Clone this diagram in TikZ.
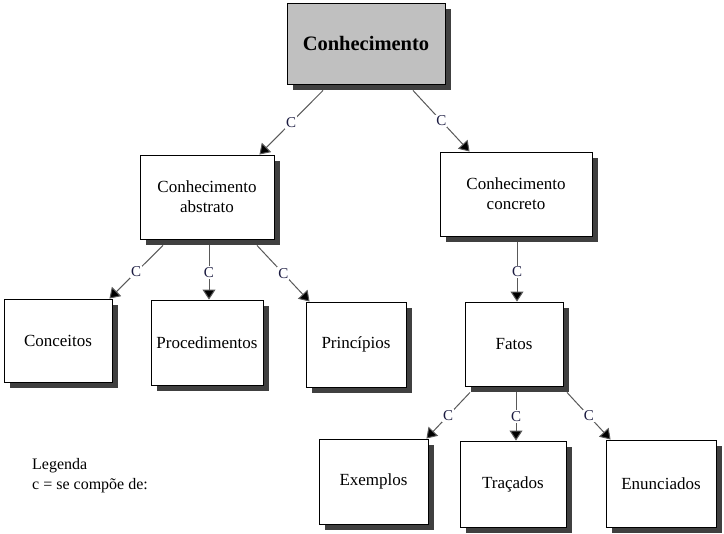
\documentclass[tikz,border=0pt]{standalone}
\usepackage{fontspec}
\setmainfont{Liberation Serif}
\usetikzlibrary{shadows,arrows.meta}
\definecolor{shadowgray}{HTML}{404040}
\definecolor{topgray}{HTML}{C0C0C0}
\definecolor{labcol}{HTML}{1A1A40}
\begin{document}
\begin{tikzpicture}[x=1pt,y=-1pt,
  box/.style={draw=black, line width=0.9pt, fill=white, inner sep=0pt, align=center,
    font=\fontsize{17}{20}\selectfont,
    drop shadow={shadow xshift=6pt, shadow yshift=-6pt, fill=shadowgray, opacity=1}},
  conn/.style={draw=black!65, line width=1pt, -{Triangle[width=13pt,length=10pt,fill=black]}},
  clab/.style={fill=white, inner sep=1pt, font=\fontsize{15}{16}\selectfont, text=labcol}]
\useasboundingbox (0,0) rectangle (724,534);
\node[box, fill=topgray, minimum width=158pt, minimum height=81pt,
  font=\fontsize{20.5}{22}\bfseries] (top) at (366,43.5) {Conhecimento};
\node[box, minimum width=134pt, minimum height=84pt] (abs) at (207,197) {Conhecimento\\abstrato};
\node[box, minimum width=152pt, minimum height=84pt] (con) at (516,194) {Conhecimento\\concreto};
\node[box, minimum width=108pt, minimum height=83pt] (conc) at (58,340.5) {Conceitos};
\node[box, minimum width=112pt, minimum height=85pt] (proc) at (207,342.5) {Procedimentos};
\node[box, minimum width=100pt, minimum height=85pt] (princ) at (356,344.5) {Princípios};
\node[box, minimum width=98pt, minimum height=84pt] (fatos) at (514,344) {Fatos};
\node[box, minimum width=109pt, minimum height=85pt] (ex) at (373.5,481.5) {Exemplos};
\node[box, minimum width=106pt, minimum height=86pt] (trac) at (513,484) {Traçados};
\node[box, minimum width=110pt, minimum height=87pt] (enun) at (661,483.5) {Enunciados};
\node[anchor=north west, align=left, inner sep=0pt, font=\fontsize{16}{20.5}\selectfont] (leg) at (32,458) {Legenda\\c = se compõe de:};
% connectors
\draw[conn] ([xshift=-43pt,yshift=-6pt]top.south) -- node[clab]{C} ([xshift=-15pt]abs.north east);
\draw[conn] ([xshift=47pt,yshift=-6pt]top.south) -- node[clab]{C} ([xshift=30pt]con.north west);
\draw[conn] ([xshift=-44pt,yshift=-6pt]abs.south) -- node[clab]{C} ([xshift=-3pt]conc.north east);
\draw[conn] ([xshift=2pt,yshift=-6pt]abs.south) -- node[clab]{C} ([xshift=2pt]abs.south |- proc.north);
\draw[conn] ([xshift=50pt,yshift=-6pt]abs.south) -- node[clab]{C} ([xshift=4pt]princ.north west);
\draw[conn] ([xshift=1pt,yshift=-6pt]con.south) -- node[clab]{C} ([xshift=1pt]con.south |- fatos.north);
\draw[conn] ([xshift=-44pt,yshift=-6pt]fatos.south) -- node[clab]{C} ([xshift=-2pt]ex.north east);
\draw[conn] ([xshift=2pt,yshift=-6pt]fatos.south) -- node[clab]{C} ([xshift=2pt]fatos.south |- trac.north);
\draw[conn] ([xshift=53pt,yshift=-6pt]fatos.south) -- node[clab]{C} ([xshift=5pt]enun.north west);
\end{tikzpicture}
\end{document}
